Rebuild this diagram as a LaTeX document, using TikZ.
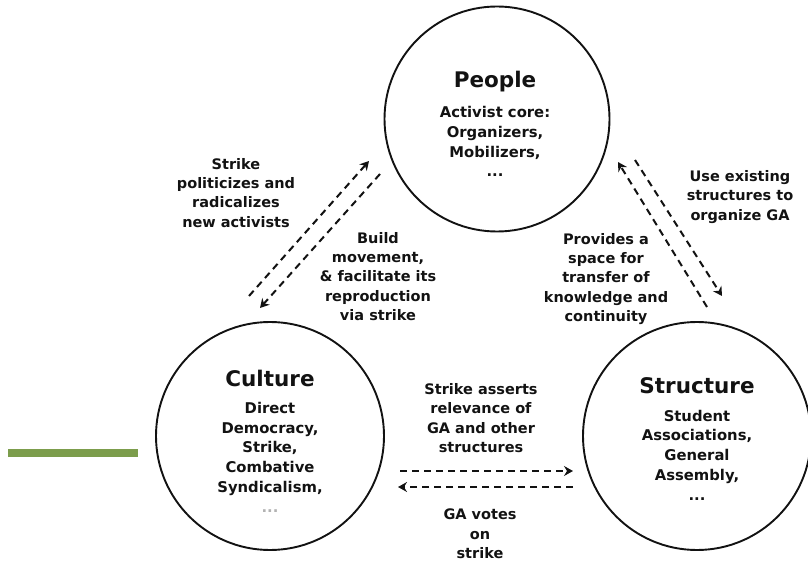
\documentclass[tikz,border=0pt]{standalone}
\usepackage{fontspec}
\setmainfont{DejaVu Sans}
\usetikzlibrary{arrows.meta}
\definecolor{barGreen}{RGB}{124,157,76}
\definecolor{ink}{RGB}{18,18,18}
\begin{document}
\begin{tikzpicture}[x=1pt,y=-1pt,
  ring/.style={circle,draw=ink,line width=1.9pt,minimum size=#1,inner sep=0pt},
  ttl/.style={font=\bfseries\fontsize{21.5}{24}\selectfont,text=ink,inner sep=0pt,anchor=base},
  body/.style={font=\bfseries\fontsize{14.8}{19.7}\selectfont,text=ink,align=center,inner sep=0pt,anchor=base},
  lbl/.style={font=\bfseries\fontsize{14.5}{19.3}\selectfont,text=ink,align=center,inner sep=0pt,anchor=base},
  flow/.style={draw=ink,line width=2pt,dash pattern=on 7pt off 5pt,-{Stealth[length=9pt,width=10pt,inset=3pt]}}]
\useasboundingbox (0,0) rectangle (808,561);
% green bar
\fill[barGreen] (8,449) rectangle (138,457);
% circles
\node[ring=225pt] (people) at (497,119) {};
\node[ring=228pt] (culture) at (270,436) {};
\node[ring=228pt] (structure) at (697,436) {};
% circle texts (base anchor = baseline of the last line)
\node[ttl] (peopleT) at (495,88) {People};
\node[body] (peopleB) at (495,177) {Activist core:\\Organizers,\\Mobilizers,\\...};
\node[ttl] (cultureT) at (270,386) {Culture};
\node[body] (cultureB) at (270,512) {Direct\\Democracy,\\Strike,\\Combative\\Syndicalism,\\\textcolor{gray!60}{...}};
\node[ttl] (structureT) at (697,393) {Structure};
\node[body] (structureB) at (697,500) {Student\\Associations,\\General\\Assembly,\\...};
% labels
\node[lbl] (l1) at (236,227.3) {Strike\\politicizes and\\radicalizes\\new activists};
\node[lbl] (l2) at (378,320.3) {Build\\movement,\\\& facilitate its\\reproduction\\via strike};
\node[lbl] (l3) at (740,220.3) {Use existing\\structures to\\organize GA};
\node[lbl] (l4) at (606,321.3) {Provides a\\space for\\transfer of\\knowledge and\\continuity};
\node[lbl] (l5) at (481,452.3) {Strike asserts\\relevance of\\GA and other\\structures};
\node[lbl] (l6) at (480,558.3) {GA votes\\on\\strike};
% arrow end points
\coordinate (a1s) at (249,296); \coordinate (a1e) at (369,161);
\coordinate (a2s) at (380,174); \coordinate (a2e) at (260,308);
\coordinate (a3s) at (707,307); \coordinate (a3e) at (618,162);
\coordinate (a4s) at (635,160); \coordinate (a4e) at (722,296);
\coordinate (a5s) at (400,471); \coordinate (a5e) at (573,471);
\coordinate (a6s) at (573,487); \coordinate (a6e) at (398,487);
\draw[flow] (a1s) -- (a1e);
\draw[flow] (a2s) -- (a2e);
\draw[flow] (a3s) -- (a3e);
\draw[flow] (a4s) -- (a4e);
\draw[flow] (a5s) -- (a5e);
\draw[flow] (a6s) -- (a6e);
\end{tikzpicture}
\end{document}
